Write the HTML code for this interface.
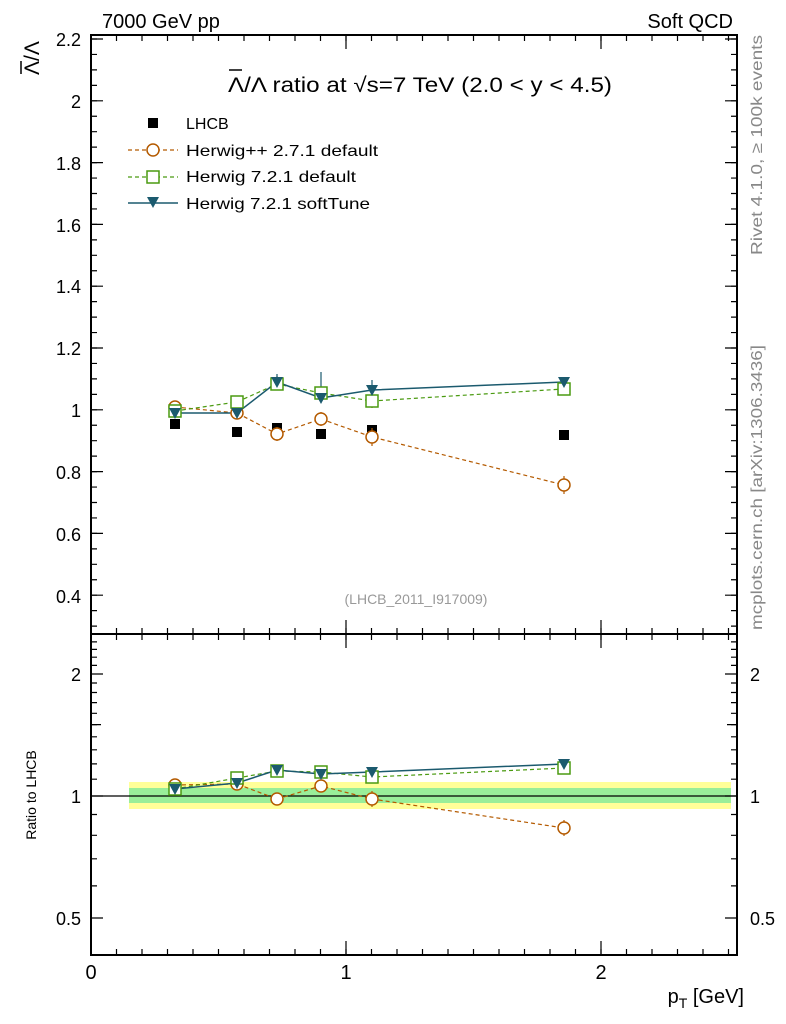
<!DOCTYPE html>
<html><head><meta charset="utf-8"><style>body{margin:0;background:#fff}svg{display:block}</style></head><body>
<svg width="786" height="1024" xmlns="http://www.w3.org/2000/svg" font-family="Liberation Sans, DejaVu Sans, sans-serif">
<rect x="129" y="782" width="602" height="27" fill="#ffff99"/>
<rect x="129" y="788" width="602" height="15" fill="#99ee99"/>
<line x1="91" y1="796" x2="737" y2="796" stroke="#000" stroke-width="1.2"/>
<rect x="91" y="35" width="646" height="599" fill="none" stroke="#000" stroke-width="2"/>
<rect x="91" y="634" width="646" height="321" fill="none" stroke="#000" stroke-width="2"/>
<g stroke="#000">
<line x1="94" y1="38.4" x2="94" y2="634" stroke-width="6" stroke-dasharray="1.2 14.25"/>
<line x1="97" y1="38.4" x2="97" y2="634" stroke-width="12" stroke-dasharray="1.2 60.6"/>
<line x1="734" y1="38.4" x2="734" y2="634" stroke-width="6" stroke-dasharray="1.2 14.25"/>
<line x1="731" y1="38.4" x2="731" y2="634" stroke-width="12" stroke-dasharray="1.2 60.6"/>
<line x1="90.4" y1="38" x2="737" y2="38" stroke-width="6" stroke-dasharray="1.2 24.3"/>
<line x1="90.4" y1="631" x2="737" y2="631" stroke-width="6" stroke-dasharray="1.2 24.3"/>
<line x1="90.4" y1="637" x2="737" y2="637" stroke-width="6" stroke-dasharray="1.2 24.3"/>
<line x1="90.4" y1="952" x2="737" y2="952" stroke-width="6" stroke-dasharray="1.2 24.3"/>
<line x1="346" y1="35" x2="346" y2="49" stroke-width="1.2"/><line x1="601" y1="35" x2="601" y2="49" stroke-width="1.2"/>
<line x1="346" y1="620" x2="346" y2="648" stroke-width="1.2"/><line x1="601" y1="620" x2="601" y2="648" stroke-width="1.2"/>
<line x1="346" y1="941" x2="346" y2="955" stroke-width="1.2"/><line x1="601" y1="941" x2="601" y2="955" stroke-width="1.2"/>
</g>
<g stroke="#000" stroke-width="1.2">
<path d="M91 885.9h6M91 858.8h6M91 835.3h6M91 814.5h6M91 779.2h6M91 763.9h6M91 749.8h6M91 736.8h6M91 724.6h6M91 713.3h6M91 702.6h6M91 692.5h6M91 683h6M91 665.4h6M91 657.2h6M91 649.4h6M91 641.9h6"/>
<path d="M91 918h12M91 796h12M91 674h12M91 724.6h10"/>
<path d="M737 885.9h-6M737 858.8h-6M737 835.3h-6M737 814.5h-6M737 779.2h-6M737 763.9h-6M737 749.8h-6M737 736.8h-6M737 724.6h-6M737 713.3h-6M737 702.6h-6M737 692.5h-6M737 683h-6M737 665.4h-6M737 657.2h-6M737 649.4h-6M737 641.9h-6"/>
<path d="M737 918h-12M737 796h-12M737 674h-12M737 724.6h-10"/>
</g>
<g font-size="18" text-anchor="end">
<text x="81" y="46">2.2</text><text x="81" y="108">2</text><text x="81" y="170">1.8</text><text x="81" y="232">1.6</text><text x="81" y="293">1.4</text><text x="81" y="355">1.2</text><text x="81" y="417">1</text><text x="81" y="479">0.8</text><text x="81" y="541">0.6</text><text x="81" y="603">0.4</text>
<text x="81" y="681">2</text><text x="81" y="803">1</text><text x="81" y="925">0.5</text>
</g>
<g font-size="18"><text x="750" y="681">2</text><text x="750" y="803">1</text><text x="750" y="925">0.5</text></g>
<g font-size="20" text-anchor="middle"><text x="91" y="979">0</text><text x="346" y="979">1</text><text x="601" y="979">2</text></g>
<text x="102" y="28" font-size="20">7000 GeV pp</text>
<text x="733" y="28" font-size="20" text-anchor="end">Soft QCD</text>
<text x="228" y="92" font-size="21" textLength="384" lengthAdjust="spacingAndGlyphs">Λ/Λ ratio at √s=7 TeV (2.0 &lt; y &lt; 4.5)</text>
<line x1="229" y1="70" x2="242" y2="70" stroke="#000" stroke-width="1.5"/>
<text transform="translate(39,75) rotate(-90)" font-size="21">Λ/Λ</text>
<line x1="21" y1="61" x2="21" y2="74" stroke="#000" stroke-width="1.5"/>
<text transform="translate(36,795) rotate(-90)" font-size="14" text-anchor="middle">Ratio to LHCB</text>
<text x="744" y="1003" font-size="20" text-anchor="end">p<tspan font-size="14" dy="5">T</tspan><tspan dy="-5"> [GeV]</tspan></text>
<text transform="translate(762,255) rotate(-90)" font-size="16" fill="#888" textLength="220" lengthAdjust="spacingAndGlyphs">Rivet 4.1.0, ≥ 100k events</text>
<text transform="translate(762,630) rotate(-90)" font-size="16" fill="#888" textLength="285" lengthAdjust="spacingAndGlyphs">mcplots.cern.ch [arXiv:1306.3436]</text>
<text x="416" y="604" font-size="14" fill="#999" text-anchor="middle">(LHCB_2011_I917009)</text>
<rect x="148" y="118" width="10" height="10" fill="#000"/>
<text x="186" y="129" font-size="16">LHCB</text>
<line x1="128" y1="150" x2="178" y2="150" stroke="#b45a00" stroke-width="1.2" stroke-dasharray="4 3"/>
<circle cx="153" cy="150" r="6" fill="#fff" stroke="#b45a00" stroke-width="1.5"/>
<text x="186" y="156" font-size="16" textLength="192" lengthAdjust="spacingAndGlyphs">Herwig++ 2.7.1 default</text>
<line x1="128" y1="177" x2="178" y2="177" stroke="#4a9a10" stroke-width="1.2" stroke-dasharray="4 3"/>
<rect x="147" y="171" width="12" height="12" fill="#fff" stroke="#4a9a10" stroke-width="1.5"/>
<text x="186" y="182" font-size="16" textLength="170" lengthAdjust="spacingAndGlyphs">Herwig 7.2.1 default</text>
<line x1="128" y1="203" x2="178" y2="203" stroke="#1b5a6e" stroke-width="1.5"/>
<path d="M147 197h12l-6 11z" fill="#1b5a6e"/>
<text x="186" y="209" font-size="16" textLength="184" lengthAdjust="spacingAndGlyphs">Herwig 7.2.1 softTune</text>
<g fill="#000">
<rect x="170" y="419" width="10" height="10"/><rect x="232" y="427" width="10" height="10"/><rect x="272" y="423" width="10" height="10"/><rect x="316" y="429" width="10" height="10"/><rect x="367" y="425" width="10" height="10"/><rect x="559" y="430" width="10" height="10"/>
</g>
<g fill="none" stroke-width="1.2">
<polyline points="175,407 237,413 277,434 321,419 372,437 564,485" stroke="#b45a00" stroke-dasharray="4 3"/>
<polyline points="175,411 237,402 277,384 321,393 372,401 564,389" stroke="#4a9a10" stroke-dasharray="4 3"/>
<polyline points="175,413 237,413 277,382 321,398 372,390 564,382" stroke="#1b5a6e" stroke-width="1.5"/>
<path d="M277 427v14M372 428v18M564 476v18M321 412v14M372 394v14M277 376v14" stroke="#b45a00"/>
<path d="M321 372v24M372 380v20M277 374v16" stroke="#1b5a6e"/>
</g>
<g fill="#fff" stroke="#b45a00" stroke-width="1.5">
<circle cx="175" cy="407" r="6"/><circle cx="237" cy="413" r="6"/><circle cx="277" cy="434" r="6"/><circle cx="321" cy="419" r="6"/><circle cx="372" cy="437" r="6"/><circle cx="564" cy="485" r="6"/>
</g>
<g fill="#fff" stroke="#4a9a10" stroke-width="1.5">
<rect x="169" y="405" width="12" height="12"/><rect x="231" y="396" width="12" height="12"/><rect x="271" y="378" width="12" height="12"/><rect x="315" y="387" width="12" height="12"/><rect x="366" y="395" width="12" height="12"/><rect x="558" y="383" width="12" height="12"/>
</g>
<g fill="#1b5a6e">
<path d="M169 408h12l-6 11z M231 408h12l-6 11z M271 377h12l-6 11z M315 393h12l-6 11z M366 385h12l-6 11z M558 377h12l-6 11z"/>
</g>
<g fill="none" stroke-width="1.2">
<polyline points="175,785 237,784 277,799 321,786 372,799 564,828" stroke="#b45a00" stroke-dasharray="4 3"/>
<polyline points="175,789 237,778 277,771 321,772 372,777 564,768" stroke="#4a9a10" stroke-dasharray="4 3"/>
<polyline points="175,789 237,783 277,770 321,774 372,772 564,764" stroke="#1b5a6e" stroke-width="1.5"/>
<path d="M372 791v16M564 820v16" stroke="#b45a00"/>
</g>
<g fill="#fff" stroke="#b45a00" stroke-width="1.5">
<circle cx="175" cy="785" r="6"/><circle cx="237" cy="784" r="6"/><circle cx="277" cy="799" r="6"/><circle cx="321" cy="786" r="6"/><circle cx="372" cy="799" r="6"/><circle cx="564" cy="828" r="6"/>
</g>
<g fill="#fff" stroke="#4a9a10" stroke-width="1.5">
<rect x="169" y="783" width="12" height="12"/><rect x="231" y="772" width="12" height="12"/><rect x="271" y="765" width="12" height="12"/><rect x="315" y="766" width="12" height="12"/><rect x="366" y="771" width="12" height="12"/><rect x="558" y="762" width="12" height="12"/>
</g>
<g fill="#1b5a6e">
<path d="M169 784h12l-6 11z M231 778h12l-6 11z M271 765h12l-6 11z M315 769h12l-6 11z M366 767h12l-6 11z M558 759h12l-6 11z"/>
</g>
</svg>
</body></html>
